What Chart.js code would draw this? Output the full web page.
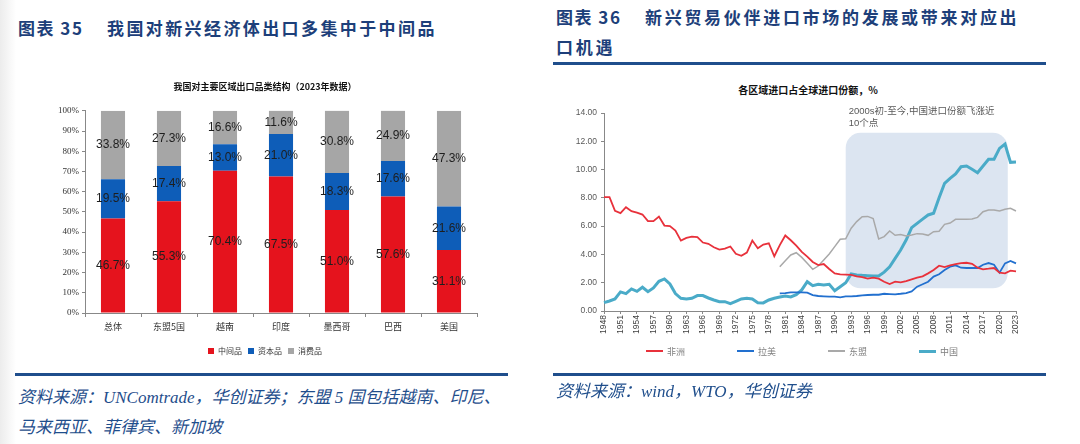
<!DOCTYPE html>
<html>
<head>
<meta charset="utf-8">
<script src="https://cdn.jsdelivr.net/npm/chart.js@4.4.1/dist/chart.umd.min.js"></script>
<style>
html, body { margin: 0; padding: 0; width: 1080px; height: 444px; overflow: hidden; }
body { position: relative; background: linear-gradient(to right, #ececec 0px, #fff 16px); font-family: "Noto Sans CJK SC", sans-serif; }
.ttl { position: absolute; color: #1d3f7a; font-weight: 700; font-size: 17px; white-space: nowrap; line-height: 30px; }
.rule { position: absolute; height: 3px; background: #1f4e8c; }
.src { position: absolute; color: #1f4e8c; font-style: italic; font-size: 17px; white-space: nowrap; line-height: 30px;
       font-family: "Liberation Serif", "Noto Sans CJK SC", serif; }
.box { position: absolute; }
.subttl { position: absolute; font-size: 10px; font-weight: 700; color: #111; text-align: center; white-space: nowrap; }
.lg { position: absolute; top: 344px; height: 14px; font-size: 9px; color: #7f7f7f; display: flex; align-items: center; white-space: nowrap; }
.lg i { display: inline-block; width: 17px; margin-right: 4px; }
</style>
</head>
<body>

<div class="ttl" style="left:18px; top:13px; letter-spacing:1.5px;">图表 35</div>
<div class="ttl" style="left:107px; top:13px; letter-spacing:2.4px;">我国对新兴经济体出口多集中于中间品</div>

<div class="ttl" style="left:556px; top:2px; letter-spacing:1.5px;">图表 36</div>
<div class="ttl" style="left:645px; top:2px; letter-spacing:2.7px;">新兴贸易伙伴进口市场的发展或带来对应出</div>
<div class="ttl" style="left:556px; top:32px; letter-spacing:2.7px;">口机遇</div>
<div class="rule" style="left:553px; top:62px; width:493px;"></div>

<div class="box" style="left:0px; top:72px; width:540px; height:293px;"><canvas id="barChart"></canvas></div>

<div class="subttl" style="left:608px; top:82px; width:400px;">各区域进口占全球进口份额，%</div>
<div class="box" style="left:553px; top:95px; width:487px; height:252px;"><canvas id="lineChart"></canvas></div>
<div id="lineLegend"></div>

<div class="rule" style="left:15px; top:373px; width:493px;"></div>
<div class="rule" style="left:553px; top:373px; width:493px;"></div>
<div class="src" style="left:18px; top:383px;">资料来源：UNComtrade，华创证券；东盟 5 国包括越南、印尼、</div>
<div class="src" style="left:18px; top:413px;">马来西亚、菲律宾、新加坡</div>
<div class="src" style="left:556px; top:377px;">资料来源：wind，WTO，华创证券</div>

<script>
// Left chart: export structure by region (2023)
const barCategories = ['总体', '东盟5国', '越南', '印度', '墨西哥', '巴西', '美国'];
const intermediateGoods = [46.7, 55.3, 70.4, 67.5, 51.0, 57.6, 31.1];
const capitalGoods = [19.5, 17.4, 13.0, 21.0, 18.3, 17.6, 21.6];
const consumerGoods = [33.8, 27.3, 16.6, 11.6, 30.8, 24.9, 47.3];
const barSeriesNames = ['中间品', '资本品', '消费品'];
const barColors = ['#e5131d', '#0e5db8', '#a6a6a6'];

// Right chart: share of global imports, %
const years = [1948, 1949, 1950, 1951, 1952, 1953, 1954, 1955, 1956, 1957,
  1958, 1959, 1960, 1961, 1962, 1963, 1964, 1965, 1966, 1967,
  1968, 1969, 1970, 1971, 1972, 1973, 1974, 1975, 1976, 1977,
  1978, 1979, 1980, 1981, 1982, 1983, 1984, 1985, 1986, 1987,
  1988, 1989, 1990, 1991, 1992, 1993, 1994, 1995, 1996, 1997,
  1998, 1999, 2000, 2001, 2002, 2003, 2004, 2005, 2006, 2007,
  2008, 2009, 2010, 2011, 2012, 2013, 2014, 2015, 2016, 2017,
  2018, 2019, 2020, 2021, 2022, 2023];
const africa = [8.05, 8.05, 7.08, 6.92, 7.34, 7.06, 6.96, 6.82, 6.35, 6.35,
  6.68, 6.04, 6.00, 5.69, 4.98, 5.17, 5.26, 5.22, 4.84, 4.75,
  4.51, 4.34, 4.41, 4.56, 4.04, 3.90, 4.13, 4.98, 4.44, 4.70,
  4.79, 3.87, 4.66, 5.34, 5.00, 4.62, 4.18, 3.84, 3.47, 3.25,
  3.32, 2.97, 2.66, 2.59, 2.57, 2.55, 2.45, 2.40, 2.29, 2.36,
  2.29, 2.07, 1.91, 2.07, 2.02, 2.12, 2.24, 2.36, 2.45, 2.66,
  2.90, 3.20, 3.11, 3.23, 3.32, 3.39, 3.41, 3.34, 3.06, 2.95,
  2.99, 3.04, 2.71, 2.66, 2.85, 2.80];
const china = [0.59, 0.71, 0.85, 1.35, 1.23, 1.56, 1.39, 1.68, 1.37, 1.63,
  2.10, 2.27, 1.91, 1.23, 0.90, 0.85, 0.90, 1.09, 1.09, 0.92,
  0.78, 0.66, 0.66, 0.52, 0.68, 0.85, 0.90, 0.85, 0.59, 0.57,
  0.78, 0.90, 0.99, 1.06, 0.99, 1.16, 1.49, 2.07, 1.79, 1.89,
  1.84, 1.89, 1.44, 1.72, 2.00, 2.62, 2.55, 2.52, 2.50, 2.47,
  2.47, 2.75, 3.13, 3.72, 4.31, 5.02, 5.89, 6.20, 6.50, 6.79,
  6.91, 8.00, 9.03, 9.38, 9.69, 10.20, 10.25, 10.02, 9.78, 10.25,
  10.73, 10.73, 11.50, 11.81, 10.51, 10.53];
// 拉美 and 东盟 series start in 1980
const seriesStart = 1980;
const latam = [1.25, 1.27, 1.32, 1.32, 1.32, 1.30, 1.13, 1.06, 1.04, 1.01,
  1.01, 0.97, 1.04, 1.04, 1.06, 1.11, 1.13, 1.15, 1.15, 1.22,
  1.20, 1.18, 1.22, 1.27, 1.39, 1.72, 1.89, 2.07, 2.43, 2.60,
  2.90, 3.13, 3.23, 3.06, 3.04, 3.04, 3.04, 3.27, 3.39, 3.27,
  2.71, 3.37, 3.54, 3.37];
const asean = [3.13, 3.56, 3.96, 4.12, 3.79, 3.37, 2.95, 3.18, 3.60, 4.03,
  4.55, 5.07, 5.11, 5.85, 6.32, 6.67, 6.69, 6.53, 5.09, 5.26,
  5.66, 5.35, 5.40, 5.30, 5.38, 5.47, 5.45, 5.35, 5.61, 5.64,
  6.13, 6.22, 6.48, 6.48, 6.48, 6.50, 6.62, 7.02, 7.14, 7.14,
  7.07, 7.19, 7.26, 7.07];
const lineSeriesNames = ['非洲', '拉美', '东盟', '中国'];
const lineColors = ['#e8313b', '#2270cf', '#a9a9a9', '#4aabc8'];
const lineWidths = [1.8, 1.8, 1.5, 3];
// highlighted period box
const highlight = { from: 1992, to: 2021.5, top: 12.6, bottom: 1.6 };
const noteLines = ['2000s初-至今,中国进口份额飞涨近', '10个点'];

Chart.defaults.font.family = '"Liberation Sans", "Noto Sans CJK SC", sans-serif';
Chart.defaults.animation = false;

// value labels in the middle of each stacked segment
const barValueLabels = {
  id: 'barValueLabels',
  afterDatasetsDraw(chart) {
    const { ctx, chartArea } = chart;
    ctx.save();
    ctx.font = '12px "Liberation Sans"';
    ctx.fillStyle = '#1e1e1e';
    ctx.textAlign = 'center';
    ctx.textBaseline = 'middle';
    chart.data.datasets.forEach((ds, i) => {
      chart.getDatasetMeta(i).data.forEach((bar, j) => {
        const top = Math.max(bar.y, chartArea.top);
        ctx.fillText(ds.data[j].toFixed(1) + '%', bar.x, (top + bar.base) / 2);
      });
    });
    ctx.restore();
  }
};

new Chart(document.getElementById('barChart'), {
  type: 'bar',
  data: {
    labels: barCategories,
    datasets: [intermediateGoods, capitalGoods, consumerGoods].map((d, i) => ({
      label: barSeriesNames[i], data: d, backgroundColor: barColors[i], borderWidth: 0,
      barPercentage: 0.43, categoryPercentage: 1
    }))
  },
  options: {
    responsive: true,
    maintainAspectRatio: false,
    devicePixelRatio: 1,
    layout: { padding: { left: 53, right: 63 } },
    plugins: {
      title: {
        display: true, text: '我国对主要区域出口品类结构（2023年数据）', color: '#111',
        font: { size: 9, weight: 'bold', family: '"Noto Sans CJK SC", sans-serif' },
        padding: { top: 9, bottom: 19 }
      },
      legend: {
        position: 'bottom',
        labels: { boxWidth: 6, boxHeight: 6, padding: 6, color: '#333', font: { size: 8, family: '"Noto Sans CJK SC"' } }
      },
      tooltip: { enabled: false }
    },
    scales: {
      x: {
        stacked: true,
        afterFit(scale) { scale.height = 28; },
        grid: { drawOnChartArea: false, tickLength: 4, color: '#888' },
        border: { color: '#888' },
        ticks: { color: '#333', padding: 4, font: { size: 9, family: '"Noto Sans CJK SC"' } }
      },
      y: {
        stacked: true, min: 0, max: 100,
        afterFit(scale) { scale.width = 32; },
        grid: { drawOnChartArea: false, tickLength: 3, color: '#888' },
        border: { color: '#888' },
        ticks: { stepSize: 10, padding: 3, color: '#333', font: { size: 9, family: '"Liberation Serif"' },
                 callback: v => v + '%' }
      }
    }
  },
  plugins: [barValueLabels]
});

// shaded rounded box + note, drawn from scale positions
const highlightBox = {
  id: 'highlightBox',
  beforeDatasetsDraw(chart) {
    const { ctx, scales: { x, y } } = chart;
    const idx = yr => years.indexOf(Math.floor(yr)) + (yr - Math.floor(yr));
    const l = x.getPixelForValue(idx(highlight.from));
    const r = x.getPixelForValue(idx(highlight.to));
    const t = y.getPixelForValue(highlight.top);
    const b = y.getPixelForValue(highlight.bottom);
    ctx.save();
    ctx.fillStyle = '#dce5f1';
    ctx.beginPath();
    ctx.roundRect(l, t, r - l, b - t, 15);
    ctx.fill();
    ctx.font = '9.5px "Liberation Sans", "Noto Sans CJK SC"';
    ctx.fillStyle = '#595959';
    ctx.textBaseline = 'middle';
    const top = y.getPixelForValue(14);
    ctx.fillText(noteLines[0], l + 3, top - 2);
    ctx.fillText(noteLines[1], l + 3, top + 10);
    ctx.restore();
  }
};

const yearLabels = years.map(String);
const fromStart = arr => arr.map((v, i) => ({ x: String(seriesStart + i), y: v }));

new Chart(document.getElementById('lineChart'), {
  type: 'line',
  data: {
    labels: yearLabels,
    datasets: [africa, fromStart(latam), fromStart(asean), china].map((d, i) => ({
      label: lineSeriesNames[i], data: d, borderColor: lineColors[i], backgroundColor: lineColors[i],
      borderWidth: lineWidths[i], pointRadius: 0, tension: 0
    }))
  },
  options: {
    responsive: true,
    maintainAspectRatio: false,
    devicePixelRatio: 1,
    layout: { padding: { top: 18, right: 24 } },
    plugins: { legend: { display: false }, tooltip: { enabled: false } },
    scales: {
      x: {
        afterFit(scale) { scale.height = 36; },
        grid: { drawOnChartArea: false, tickLength: 3, color: '#888' },
        border: { color: '#888' },
        ticks: {
          autoSkip: false, maxRotation: 90, minRotation: 90, padding: 1, color: '#404040',
          font: { size: 8.5 },
          callback(value, index) { return index % 3 === 0 ? this.getLabelForValue(value) : null; }
        }
      },
      y: {
        min: 0, max: 14,
        afterFit(scale) { scale.width = 51; },
        grid: { drawOnChartArea: false, tickLength: 3, color: '#888' },
        border: { color: '#888' },
        ticks: { stepSize: 2, padding: 4, color: '#595959', font: { size: 8.5 }, callback: v => v.toFixed(2) }
      }
    }
  },
  plugins: [highlightBox]
});

// legend for the line chart
const legendX = [646, 737, 828, 919];
const legendEl = document.getElementById('lineLegend');
lineSeriesNames.forEach((name, i) => {
  const item = document.createElement('div');
  item.className = 'lg';
  item.style.left = legendX[i] + 'px';
  item.innerHTML = `<i style="height:${Math.round(lineWidths[i])}px;background:${lineColors[i]}"></i>${name}`;
  legendEl.appendChild(item);
});
</script>
</body>
</html>
